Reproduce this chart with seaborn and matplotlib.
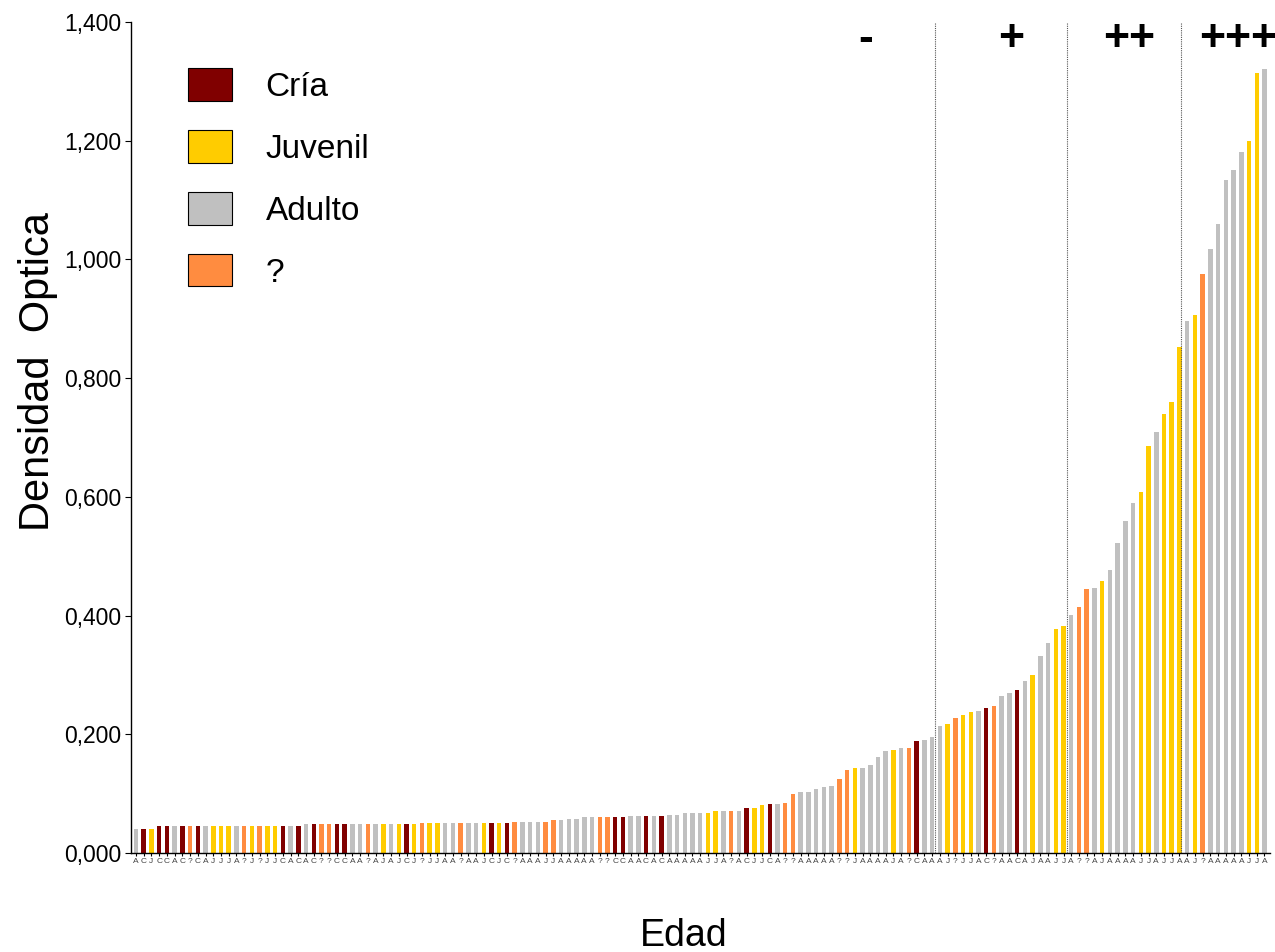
import numpy as np
import pandas as pd
import matplotlib
matplotlib.use("Agg")
import matplotlib.pyplot as plt
import seaborn as sns
from matplotlib.patches import Patch

# Age class of each sample (C = Cría, J = Juvenil, A = Adulto, ? = unknown), sorted by optical density
grupos = list(
    "ACJCCAC?CAJJ"
    "JA?J?JJCACAC"
    "??CCAA?AJAJC"
    "J?JJAA?AAJCJ"
    "C?AAA??AAAAA?"
    "?CCAACACAAAA"
    "AJJA?ACJJCA?"
    "?AAAAA??JAAA"
    "AJA?CAAAJ?JJ"
    "AC?AACAJAAJJ"
    "A??AJAAAAJJAJ"
    "JJAJ?AAAAAJJA"
)

# Letter printed under each bar
etiquetas = list(
    "ACJCCAC?CAJJ"
    "JA?J?JJCACAC"
    "??CCAA?AJAJC"
    "J?JJAA?AAJCJ"
    "C?AAAJJAAAAA?"
    "?CCAACACAAAA"
    "AJJA?ACJJCA?"
    "?AAAAA??JAAA"
    "AJA?CAAAJ?JJ"
    "AC?AACAJAAJJ"
    "A??AJAAAAJJAJ"
    "JAAJ?AAAAAJJA"
)

densidad = [
    0.041, 0.041, 0.041, 0.045, 0.045, 0.045, 0.045, 0.045, 0.045, 0.046, 0.046, 0.046,
    0.046, 0.046, 0.046, 0.046, 0.046, 0.046, 0.046, 0.046, 0.046, 0.046, 0.048, 0.048,
    0.048, 0.048, 0.048, 0.048, 0.048, 0.048, 0.048, 0.048, 0.048, 0.048, 0.048, 0.048,
    0.048, 0.051, 0.051, 0.051, 0.051, 0.051, 0.051, 0.051, 0.051, 0.051, 0.051, 0.051,
    0.051, 0.053, 0.053, 0.053, 0.053, 0.053, 0.056, 0.056, 0.058, 0.058, 0.061, 0.061, 0.061,
    0.061, 0.061, 0.061, 0.063, 0.063, 0.063, 0.063, 0.063, 0.064, 0.064, 0.068, 0.068,
    0.068, 0.068, 0.070, 0.071, 0.071, 0.071, 0.075, 0.075, 0.081, 0.083, 0.083, 0.084,
    0.100, 0.102, 0.102, 0.108, 0.112, 0.113, 0.125, 0.140, 0.144, 0.144, 0.149, 0.161,
    0.172, 0.174, 0.177, 0.177, 0.189, 0.191, 0.196, 0.214, 0.218, 0.228, 0.233, 0.238,
    0.240, 0.244, 0.248, 0.265, 0.270, 0.275, 0.289, 0.300, 0.331, 0.353, 0.378, 0.383,
    0.401, 0.414, 0.444, 0.446, 0.458, 0.477, 0.523, 0.559, 0.590, 0.608, 0.685, 0.709, 0.740,
    0.760, 0.853, 0.896, 0.907, 0.976, 1.017, 1.059, 1.133, 1.151, 1.180, 1.200, 1.314, 1.320,
]

nombres = {"C": "Cría", "J": "Juvenil", "A": "Adulto", "?": "?"}
colores = {"Cría": "#800000", "Juvenil": "#FFCC00", "Adulto": "#C0C0C0", "?": "#FF8C40"}

# Category thresholds and their marks
cortes = [103.4, 120.5, 135.2]
marcas = ["-", "+", "++", "+++"]
pos_marcas = [94.4, 113.2, 128.5, 142.6]

df = pd.DataFrame({
    "orden": np.arange(len(densidad)),
    "densidad": densidad,
    "edad": [nombres[g] for g in grupos],
})

sns.set_style("ticks")
plt.rcParams["font.family"] = ["Liberation Sans", "DejaVu Sans"]

fig = plt.figure(figsize=(12.75, 9.52), dpi=100)
ax = fig.add_axes([0.1027, 0.104, 0.8933, 0.873])

sns.barplot(data=df, x="orden", y="densidad", hue="edad", palette=colores,
            dodge=False, width=0.58, saturation=1, legend=False, ax=ax,
            linewidth=0)

ax.set_xlim(-0.65, 146.7)
ax.set_ylim(0, 1.4)

ax.vlines(cortes, 0, 1.4, colors="#555555", linestyles=(0, (1, 1)), linewidth=0.8)
for m, xm in zip(marcas, pos_marcas):
    ax.text(xm, 1.37, m, ha="center", va="center", fontsize=32,
            fontweight="bold", color="black")

ax.set_xticks(np.arange(len(etiquetas)))
ax.set_xticklabels(etiquetas, fontsize=6, color="#444444")
ax.tick_params(axis="x", length=2.5, width=0.8, pad=1, color="black")

yt = np.arange(0, 1.41, 0.2)
ax.set_yticks(yt)
ax.set_yticklabels([f"{v:.3f}".replace(".", ",") for v in yt], fontsize=16.5, color="black")
ax.tick_params(axis="y", length=4, width=0.8, pad=3, color="black")

for s in ["top", "right"]:
    ax.spines[s].set_visible(False)
for s in ["left", "bottom"]:
    ax.spines[s].set_color("black")
    ax.spines[s].set_linewidth(1.0)

ax.set_xlabel("Edad", fontsize=27, color="black")
ax.set_ylabel("Densidad  Optica", fontsize=30, color="black")
ax.xaxis.set_label_coords(0.485, -0.078)
ax.yaxis.set_label_coords(-0.064, 0.579)

handles = [Patch(facecolor=colores[k], edgecolor="black", linewidth=0.8, label=k)
           for k in ["Cría", "Juvenil", "Adulto", "?"]]
ax.legend(handles=handles, loc="upper left", bbox_to_anchor=(0.05, 0.944),
          frameon=False, fontsize=24, handlelength=1.33, handleheight=1.12,
          handletextpad=1.0, labelspacing=0.82, borderpad=0, borderaxespad=0,
          labelcolor="black")

fig.savefig("out.png", dpi=100)
